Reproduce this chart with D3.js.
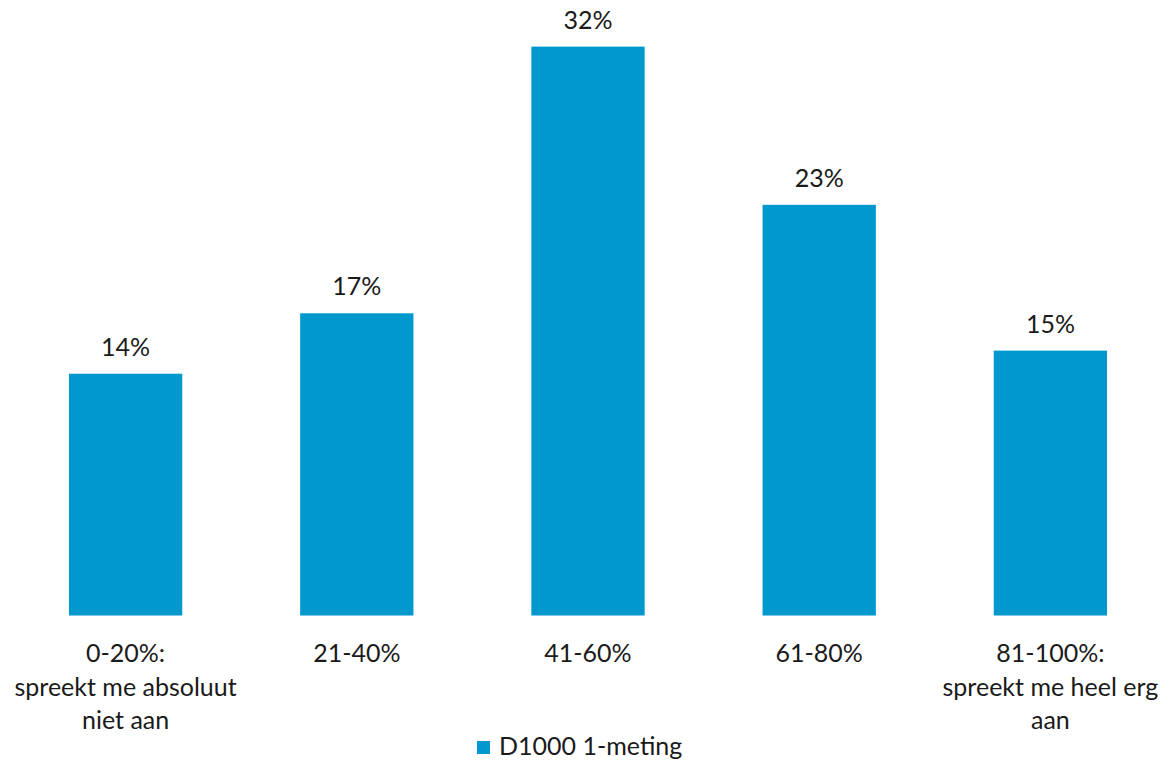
<!DOCTYPE html>
<html><head><meta charset="utf-8">
<script src="https://cdn.jsdelivr.net/npm/d3@7"></script>
<style>
html,body{margin:0;padding:0;background:#fff;}
svg{display:block;font-family:"Lato","Noto Sans",sans-serif;font-weight:400;}
</style></head>
<body>
<svg id="chart" width="1173" height="762"></svg>
<script>
const categories = [
  ["0-20%:", "spreekt me absoluut", "niet aan"],
  ["21-40%"],
  ["41-60%"],
  ["61-80%"],
  ["81-100%:", "spreekt me heel erg", "aan"]
];
const seriesName = "D1000 1-meting";
const values = [13.6, 17.0, 32.0, 23.1, 14.9];
const valueLabels = ["14%", "17%", "32%", "23%", "15%"];

const svg = d3.select("#chart");
const color = "#0098CD";
const textColor = "#1a1a1a";
const fontSize = 25;

const x = d3.scaleBand().domain(d3.range(categories.length)).range([10, 1166]).paddingInner(0.51).paddingOuter(0.255);
const y = d3.scaleLinear().domain([0, 32]).range([615.5, 46.6]);

svg.selectAll("rect.bar").data(values).join("rect")
  .attr("class","bar")
  .attr("x",(d,i)=>x(i)).attr("width",x.bandwidth())
  .attr("y",d=>y(d)).attr("height",d=>y(0)-y(d))
  .attr("fill",color);

svg.selectAll("text.val").data(values).join("text")
  .attr("class","val")
  .attr("x",(d,i)=>x(i)+x.bandwidth()/2)
  .attr("y",d=>y(d)-18)
  .attr("text-anchor","middle")
  .attr("font-size",fontSize).attr("fill",textColor)
  .text((d,i)=>valueLabels[i]);

const xAxis = d3.axisBottom(x).tickSize(0).tickFormat("");
const ax = svg.append("g").attr("transform",`translate(0,${y(0)})`).call(xAxis);
ax.select(".domain").remove();

categories.forEach((lines,i)=>{
  const t = svg.append("text")
    .attr("x",x(i)+x.bandwidth()/2)
    .attr("y",662)
    .attr("text-anchor","middle")
    .attr("font-size",fontSize).attr("fill",textColor);
  lines.forEach((l,j)=>{
    t.append("tspan").attr("x",x(i)+x.bandwidth()/2).attr("dy",j===0?0:33.5).text(l);
  });
});

const lg = svg.append("g");
lg.append("rect").attr("x",477).attr("y",741).attr("width",13).attr("height",13).attr("fill",color);
lg.append("text").attr("x",499).attr("y",755).attr("font-size",fontSize).attr("fill",textColor).text(seriesName);
</script>
</body></html>
